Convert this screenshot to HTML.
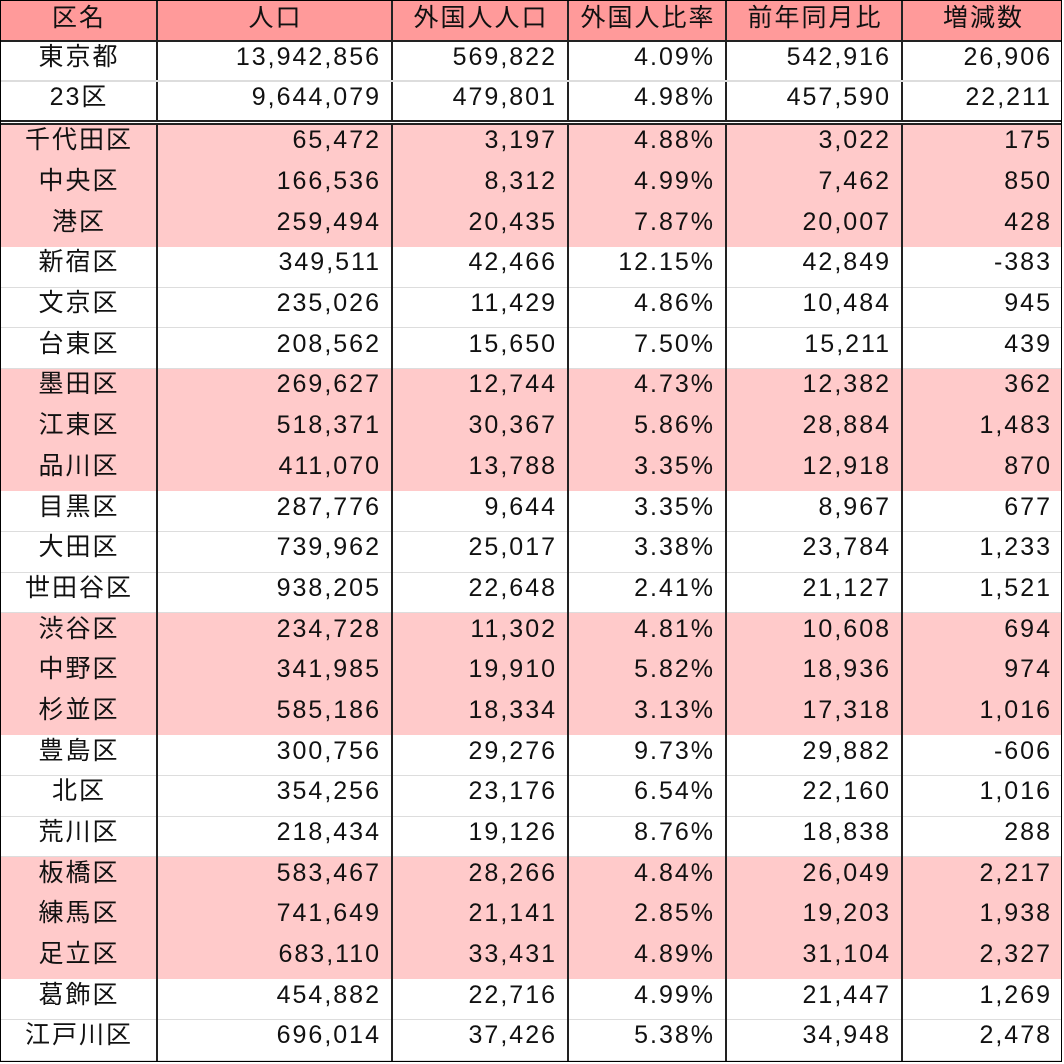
<!DOCTYPE html>
<html><head><meta charset="utf-8"><style>
body{margin:0;background:#fff;width:1064px;height:1064px;overflow:hidden;font-family:"Liberation Sans","Noto Sans CJK JP",sans-serif;}
#w{position:absolute;left:0;top:0;width:1062px;height:1062px;border:1px solid #000;box-sizing:border-box;}
table{position:absolute;left:0;top:0;border-collapse:collapse;table-layout:fixed;width:1062px;font-size:25px;letter-spacing:2px;color:#111;}
td{padding:0 10px 8px 0;text-align:right;border-left:2px solid #222;border-right:2px solid #222;white-space:nowrap;overflow:hidden;line-height:25px;}
td:first-child{text-align:center;padding:0 0 8px 2px;border-left:none}
td:last-child{border-right:none}
tr.h td{background:#ff9a9a;text-align:center;padding:0 0 4px 2px;height:36px;border-bottom:2px solid #222;}
tr.t td{height:30px;border-bottom:2px solid #ddd;}
tr.t2 td{height:30px;border-bottom:5px double #222;}
tr.r td{height:31.7px;border-bottom:1px solid #ddd;}
tr.p td{background:#ffcaca;border-bottom:1px solid #ffcaca;}
</style></head><body>
<table>
<colgroup><col style="width:157px"><col style="width:235px"><col style="width:176px"><col style="width:158px"><col style="width:176px"><col style="width:160px"></colgroup>
<tr class="h"><td>区名</td><td>人口</td><td>外国人人口</td><td>外国人比率</td><td>前年同月比</td><td>増減数</td></tr>
<tr class="t"><td>東京都</td><td>13,942,856</td><td>569,822</td><td>4.09%</td><td>542,916</td><td>26,906</td></tr>
<tr class="t2"><td>23区</td><td>9,644,079</td><td>479,801</td><td>4.98%</td><td>457,590</td><td>22,211</td></tr>
<tr class="r p"><td>千代田区</td><td>65,472</td><td>3,197</td><td>4.88%</td><td>3,022</td><td>175</td></tr>
<tr class="r p"><td>中央区</td><td>166,536</td><td>8,312</td><td>4.99%</td><td>7,462</td><td>850</td></tr>
<tr class="r p"><td>港区</td><td>259,494</td><td>20,435</td><td>7.87%</td><td>20,007</td><td>428</td></tr>
<tr class="r"><td>新宿区</td><td>349,511</td><td>42,466</td><td>12.15%</td><td>42,849</td><td>-383</td></tr>
<tr class="r"><td>文京区</td><td>235,026</td><td>11,429</td><td>4.86%</td><td>10,484</td><td>945</td></tr>
<tr class="r"><td>台東区</td><td>208,562</td><td>15,650</td><td>7.50%</td><td>15,211</td><td>439</td></tr>
<tr class="r p"><td>墨田区</td><td>269,627</td><td>12,744</td><td>4.73%</td><td>12,382</td><td>362</td></tr>
<tr class="r p"><td>江東区</td><td>518,371</td><td>30,367</td><td>5.86%</td><td>28,884</td><td>1,483</td></tr>
<tr class="r p"><td>品川区</td><td>411,070</td><td>13,788</td><td>3.35%</td><td>12,918</td><td>870</td></tr>
<tr class="r"><td>目黒区</td><td>287,776</td><td>9,644</td><td>3.35%</td><td>8,967</td><td>677</td></tr>
<tr class="r"><td>大田区</td><td>739,962</td><td>25,017</td><td>3.38%</td><td>23,784</td><td>1,233</td></tr>
<tr class="r"><td>世田谷区</td><td>938,205</td><td>22,648</td><td>2.41%</td><td>21,127</td><td>1,521</td></tr>
<tr class="r p"><td>渋谷区</td><td>234,728</td><td>11,302</td><td>4.81%</td><td>10,608</td><td>694</td></tr>
<tr class="r p"><td>中野区</td><td>341,985</td><td>19,910</td><td>5.82%</td><td>18,936</td><td>974</td></tr>
<tr class="r p"><td>杉並区</td><td>585,186</td><td>18,334</td><td>3.13%</td><td>17,318</td><td>1,016</td></tr>
<tr class="r"><td>豊島区</td><td>300,756</td><td>29,276</td><td>9.73%</td><td>29,882</td><td>-606</td></tr>
<tr class="r"><td>北区</td><td>354,256</td><td>23,176</td><td>6.54%</td><td>22,160</td><td>1,016</td></tr>
<tr class="r"><td>荒川区</td><td>218,434</td><td>19,126</td><td>8.76%</td><td>18,838</td><td>288</td></tr>
<tr class="r p"><td>板橋区</td><td>583,467</td><td>28,266</td><td>4.84%</td><td>26,049</td><td>2,217</td></tr>
<tr class="r p"><td>練馬区</td><td>741,649</td><td>21,141</td><td>2.85%</td><td>19,203</td><td>1,938</td></tr>
<tr class="r p"><td>足立区</td><td>683,110</td><td>33,431</td><td>4.89%</td><td>31,104</td><td>2,327</td></tr>
<tr class="r"><td>葛飾区</td><td>454,882</td><td>22,716</td><td>4.99%</td><td>21,447</td><td>1,269</td></tr>
<tr class="r"><td>江戸川区</td><td>696,014</td><td>37,426</td><td>5.38%</td><td>34,948</td><td>2,478</td></tr>
</table>
<div id="w"></div>
</body></html>
